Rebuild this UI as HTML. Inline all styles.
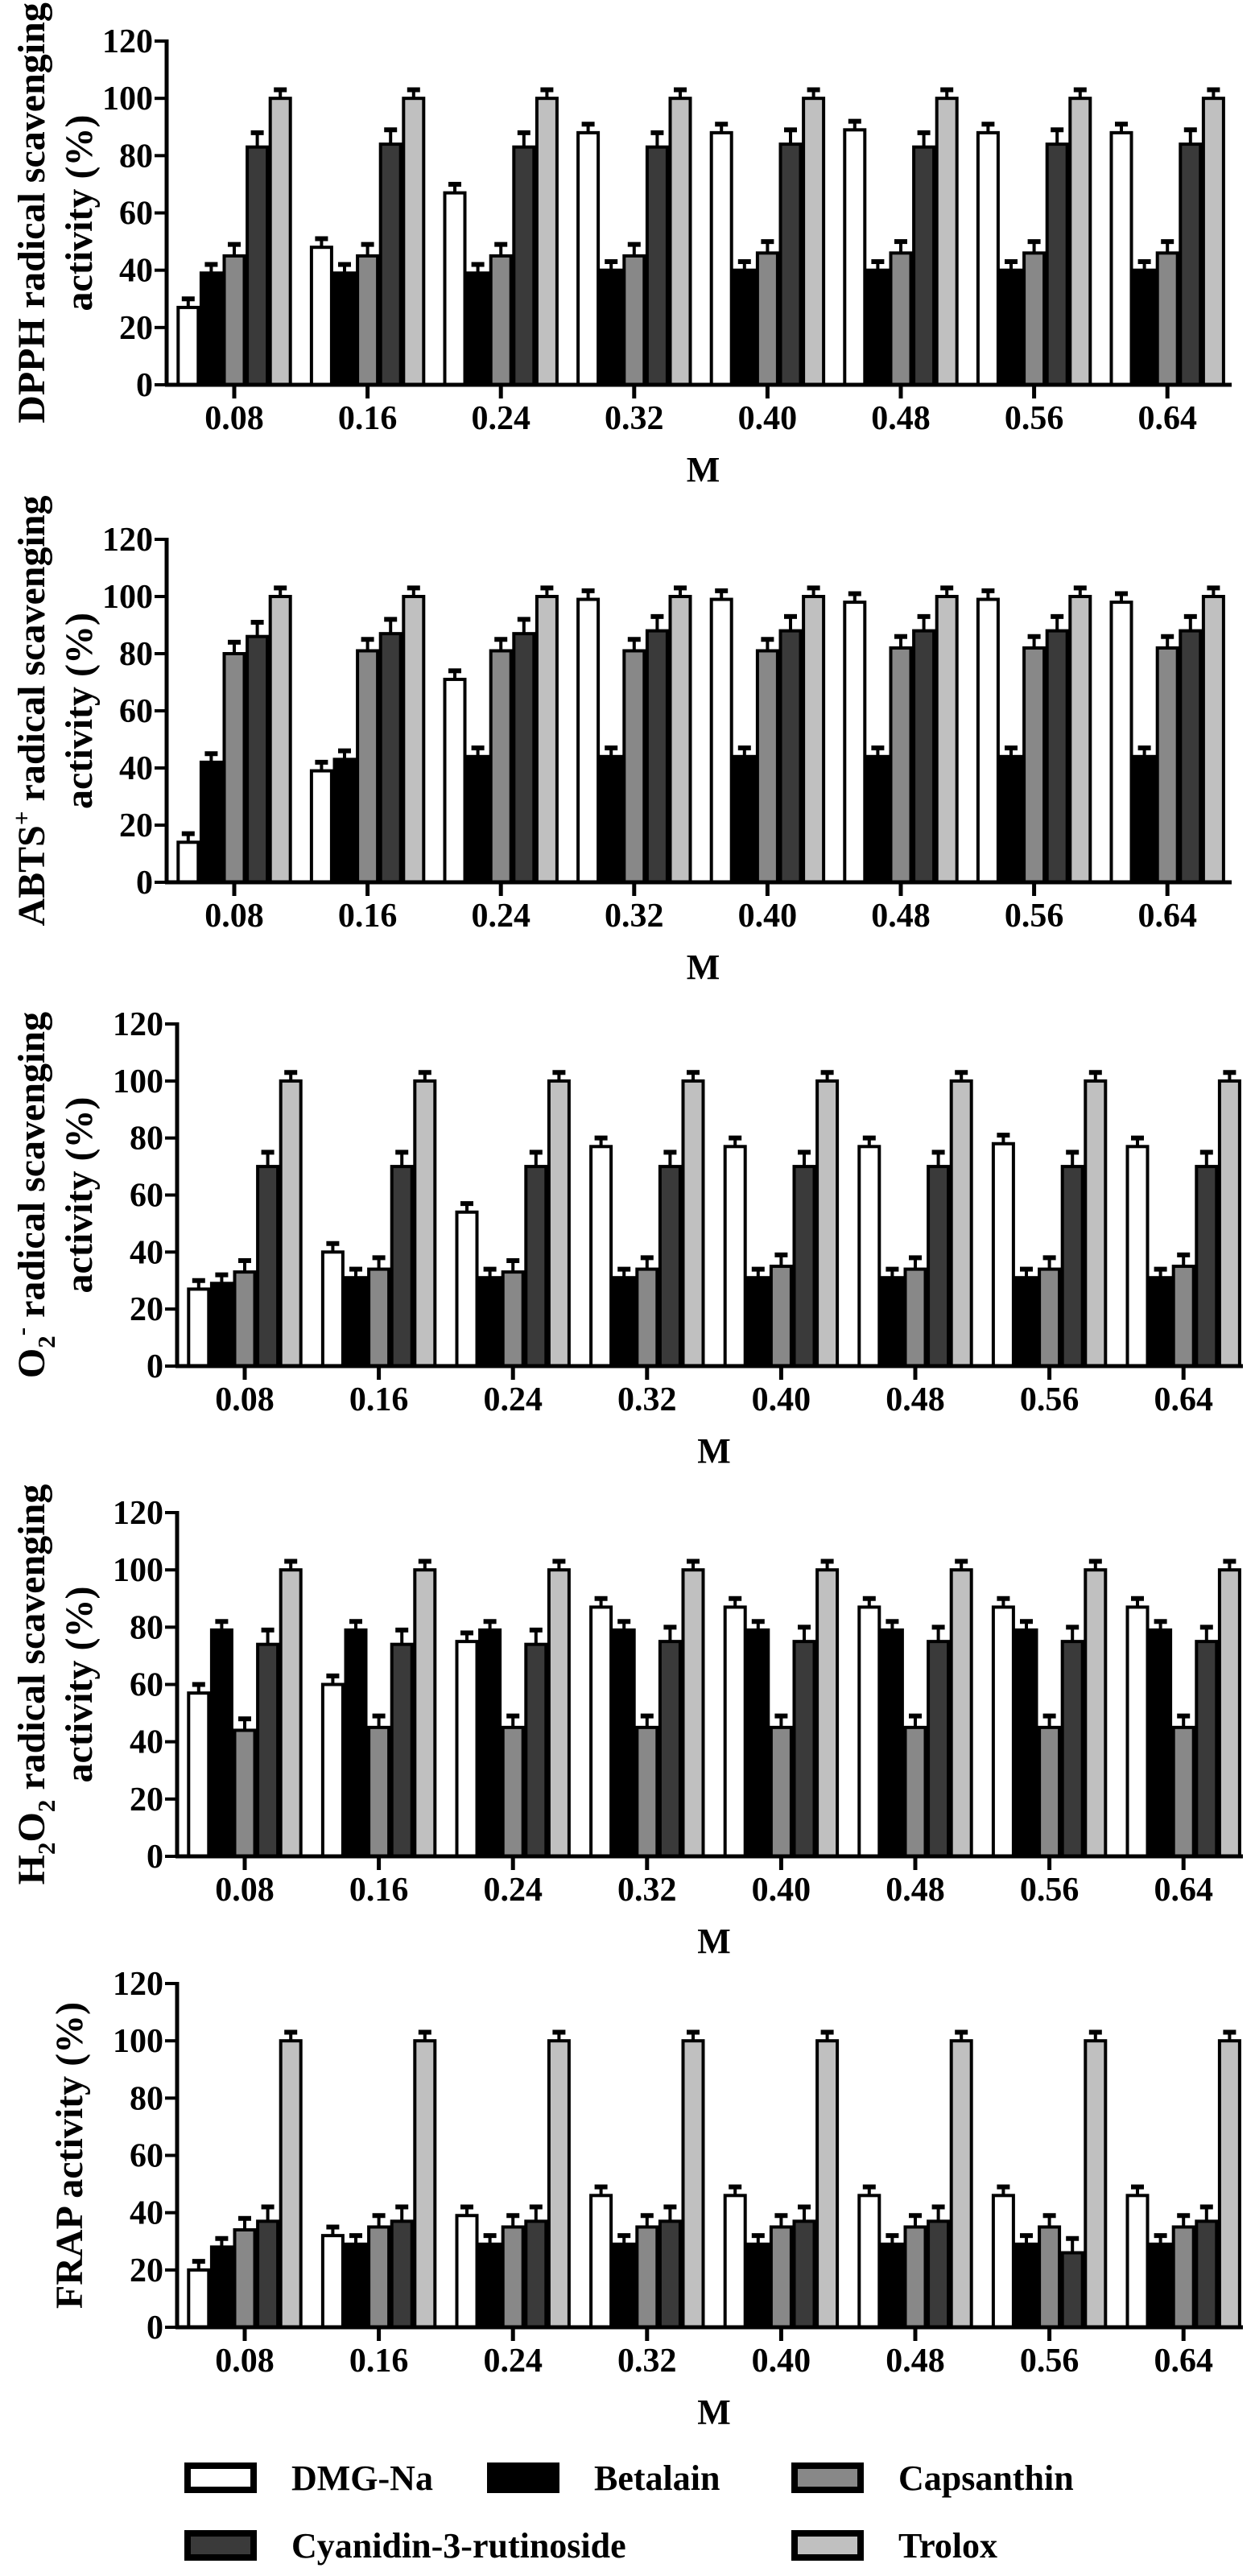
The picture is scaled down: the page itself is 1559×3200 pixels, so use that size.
<!DOCTYPE html>
<html><head><meta charset="utf-8"><style>
html,body{margin:0;padding:0;background:#fff;}
svg{display:block;font-family:"Liberation Serif",serif;font-weight:bold;}
</style></head><body>
<svg id="fig" width="1559" height="3200" viewBox="0 0 1559 3200" xmlns="http://www.w3.org/2000/svg"></svg>
<script>
const categories = ["0.08","0.16","0.24","0.32","0.40","0.48","0.56","0.64"];
const seriesNames = ["DMG-Na","Betalain","Capsanthin","Cyanidin-3-rutinoside","Trolox"];
const yTicks = [0,20,40,60,80,100,120];
const errors = [3,3,4,5,3];
const dpphDMG = [27,48,67,88,88,89,88,88];
const dpphBet = [39,39,39,40,40,40,40,40];
const dpphCap = [45,45,45,45,46,46,46,46];
const dpphCya = [83,84,83,83,84,83,84,84];
const dpphTro = [100,100,100,100,100,100,100,100];
const abtsDMG = [14,39,71,99,99,98,99,98];
const abtsBet = [42,43,44,44,44,44,44,44];
const abtsCap = [80,81,81,81,81,82,82,82];
const abtsCya = [86,87,87,88,88,88,88,88];
const abtsTro = [100,100,100,100,100,100,100,100];
const o2DMG = [27,40,54,77,77,77,78,77];
const o2Bet = [29,31,31,31,31,31,31,31];
const o2Cap = [33,34,33,34,35,34,34,35];
const o2Cya = [70,70,70,70,70,70,70,70];
const o2Tro = [100,100,100,100,100,100,100,100];
const h2o2DMG = [57,60,75,87,87,87,87,87];
const h2o2Bet = [79,79,79,79,79,79,79,79];
const h2o2Cap = [44,45,45,45,45,45,45,45];
const h2o2Cya = [74,74,74,75,75,75,75,75];
const h2o2Tro = [100,100,100,100,100,100,100,100];
const frapDMG = [20,32,39,46,46,46,46,46];
const frapBet = [28,29,29,29,29,29,29,29];
const frapCap = [34,35,35,35,35,35,35,35];
const frapCya = [37,37,37,37,37,37,26,37];
const frapTro = [100,100,100,100,100,100,100,100];

const fills = ["#ffffff","#000000","#888888","#3a3a3a","#c0c0c0"];
const NS = "http://www.w3.org/2000/svg";
const svg = document.getElementById("fig");
function mk(tag, attrs, parent){
  const e = document.createElementNS(NS, tag);
  for (const k in attrs) e.setAttribute(k, attrs[k]);
  (parent||svg).appendChild(e);
  return e;
}
const panels = [
  {key:"dpph", series:[dpphDMG,dpphBet,dpphCap,dpphCya,dpphTro], top:51, zero:478, ax:207, t0:291, sp:165.6, end:1530, title:["DPPH radical scavenging","activity (%)"]},
  {key:"abts", series:[abtsDMG,abtsBet,abtsCap,abtsCya,abtsTro], top:670, zero:1096, ax:207, t0:291, sp:165.6, end:1530, title:["ABTS+ radical scavenging","activity (%)"]},
  {key:"o2", series:[o2DMG,o2Bet,o2Cap,o2Cya,o2Tro], top:1272, zero:1697, ax:220, t0:304, sp:166.6, end:1544, title:["O2- radical scavenging","activity (%)"]},
  {key:"h2o2", series:[h2o2DMG,h2o2Bet,h2o2Cap,h2o2Cya,h2o2Tro], top:1879, zero:2306, ax:220, t0:304, sp:166.6, end:1544, title:["H2O2 radical scavenging","activity (%)"]},
  {key:"frap", series:[frapDMG,frapBet,frapCap,frapCya,frapTro], top:2464, zero:2891, ax:220, t0:304, sp:166.6, end:1544, title:["FRAP activity (%)"]}
];
panels.forEach(p => {
  const g = mk("g", {});
  
  
  const y = v => p.zero - (v/120)*(p.zero - p.top);
  const xc = i => p.t0 + i*p.sp;
  const pitch = 28.6, bw = 25;
  p.series.forEach((arr, s) => {
    arr.forEach((v, i) => {
      const cx = xc(i) + (s-2)*pitch;
      const r = mk("rect", {x:cx-bw/2, y:y(v), width:bw, height:p.zero-y(v), fill:fills[s], stroke:"#000", "stroke-width":4}, g);
      
      
      const ey = y(v + errors[s]);
      mk("line", {x1:cx, x2:cx, y1:y(v), y2:ey, stroke:"#000", "stroke-width":4}, g);
      const c = mk("line", {x1:cx-8, x2:cx+8, y1:ey, y2:ey, stroke:"#000", "stroke-width":6}, g);
      
      
    });
  });
  mk("line", {x1:p.ax, x2:p.ax, y1:p.top-2, y2:p.zero+2, stroke:"#000", "stroke-width":5}, g);
  mk("line", {x1:p.ax-2, x2:p.end, y1:p.zero, y2:p.zero, stroke:"#000", "stroke-width":5}, g);
  yTicks.forEach(t => {
    mk("line", {x1:p.ax-15, x2:p.ax, y1:y(t), y2:y(t), stroke:"#000", "stroke-width":4}, g);
    const tx = mk("text", {x:p.ax-17, y:y(t)+14, "text-anchor":"end", "font-size":42}, g);
    tx.textContent = t;
    
    
  });
  categories.forEach((c, i) => {
    mk("line", {x1:xc(i), x2:xc(i), y1:p.zero, y2:p.zero+17, stroke:"#000", "stroke-width":5}, g);
    const tx = mk("text", {x:xc(i), y:p.zero+55, "text-anchor":"middle", "font-size":42}, g);
    tx.textContent = c;
    
    
  });
  const m = mk("text", {x:(p.ax+p.end)/2+5, y:p.zero+120, "text-anchor":"middle", "font-size":44}, g);
  m.textContent = "M";
  
  
  const cy = (p.top + p.zero)/2;
  const lines = p.title;
  const xs = lines.length === 2 ? [55, 114] : [102];
  lines.forEach((ln, k) => {
    const t = mk("text", {x:xs[k], y:cy, "text-anchor":"middle", "font-size":48, transform:`rotate(-90 ${xs[k]} ${cy})`}, g);
    
    
    if (ln.startsWith("ABTS+")) {
      t.innerHTML = 'ABTS<tspan dy="-18" font-size="31">+</tspan><tspan dy="18"> radical scavenging</tspan>';
    } else if (ln.startsWith("O2-")) {
      t.innerHTML = 'O<tspan dy="13" font-size="31">2</tspan><tspan dy="-31" font-size="31">-</tspan><tspan dy="18"> radical scavenging</tspan>';
    } else if (ln.startsWith("H2O2")) {
      t.innerHTML = 'H<tspan dy="13" font-size="31">2</tspan><tspan dy="-13">O</tspan><tspan dy="13" font-size="31">2</tspan><tspan dy="-13"> radical scavenging</tspan>';
    } else t.textContent = ln;
  });
});
// legend
const legX = [229, 605, 983, 229, 983];
const legY = [3078, 3078, 3078, 3162, 3162];
seriesNames.forEach((n, s) => {
  const g = mk("g", {});
  
  
  mk("rect", {x:legX[s]+4, y:legY[s]-15, width:82, height:30, fill:fills[s], stroke:"#000", "stroke-width":8}, g);
  const t = mk("text", {x:legX[s]+133, y:legY[s]+15, "font-size":44}, g);
  t.textContent = n;
});
</script>
</body></html>
